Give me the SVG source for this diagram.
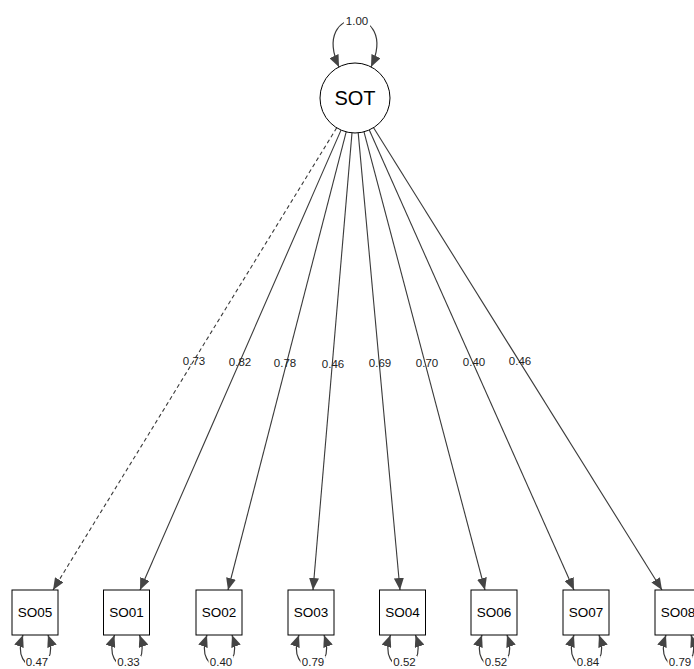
<svg xmlns="http://www.w3.org/2000/svg" width="694" height="669" viewBox="0 0 694 669">
<style>
.box{fill:#fff;stroke:#000;stroke-width:1}
.lat{fill:#fff;stroke:#000;stroke-width:1}
.edge{fill:none;stroke:#3a3a3a;stroke-width:1.1}
.dash{stroke-dasharray:4,3}
.loop{fill:none;stroke:#3a3a3a;stroke-width:1.2}
.bg{fill:#fff;stroke:none}
.lbl{font-family:"Liberation Sans",Arial,sans-serif;font-size:11.5px;fill:#222;text-anchor:middle}
.nt{font-family:"Liberation Sans",Arial,sans-serif;font-size:13.5px;fill:#000;text-anchor:middle}
.lt{font-family:"Liberation Sans",Arial,sans-serif;font-size:20px;fill:#000;text-anchor:middle}
</style>
<defs>
<marker id="ah" viewBox="0 0 12 10" refX="12" refY="5" markerWidth="12" markerHeight="10" markerUnits="userSpaceOnUse" orient="auto-start-reverse">
<path d="M0,0 L12,5 L0,10 Z" fill="#444"/>
</marker>
</defs>
<g id="connectors">
<path class="edge dash" d="M336.7,127.8 L53,590" marker-end="url(#ah)"/>
<path class="edge" d="M341,130.1 L140,590" marker-end="url(#ah)"/>
<path class="edge" d="M346.2,131.9 L228,590" marker-end="url(#ah)"/>
<path class="edge" d="M352,132.9 L313,590" marker-end="url(#ah)"/>
<path class="edge" d="M358.2,132.9 L400,590" marker-end="url(#ah)"/>
<path class="edge" d="M364,131.8 L485,590" marker-end="url(#ah)"/>
<path class="edge" d="M369.3,130 L574,590" marker-end="url(#ah)"/>
<path class="edge" d="M373.6,127.7 L662,590" marker-end="url(#ah)"/>
<text class="lbl" x="194" y="365">0.73</text>
<text class="lbl" x="240" y="366">0.82</text>
<text class="lbl" x="285" y="367">0.78</text>
<text class="lbl" x="333" y="368">0.46</text>
<text class="lbl" x="380" y="367">0.69</text>
<text class="lbl" x="427" y="367">0.70</text>
<text class="lbl" x="474" y="366">0.40</text>
<text class="lbl" x="520" y="365">0.46</text>
<path class="loop" d="M339,67 C310,4 400,4 371,67" marker-start="url(#ah)" marker-end="url(#ah)"/>
<rect class="bg" x="344" y="14" width="26" height="13"/>
<text class="lbl" x="357" y="25">1.00</text>
<g id="loops">
<path class="loop" d="M23,635 C8,677 63,677 48,635" marker-start="url(#ah)" marker-end="url(#ah)"/>
<rect class="bg" x="25" y="656" width="25" height="13"/>
<text class="lbl" x="37" y="666">0.47</text>
<path class="loop" d="M114.5,635 C99.5,677 154.5,677 139.5,635" marker-start="url(#ah)" marker-end="url(#ah)"/>
<rect class="bg" x="116" y="656" width="25" height="13"/>
<text class="lbl" x="128.5" y="666">0.33</text>
<path class="loop" d="M207,635 C192,677 247,677 232,635" marker-start="url(#ah)" marker-end="url(#ah)"/>
<rect class="bg" x="208.5" y="656" width="25" height="13"/>
<text class="lbl" x="221" y="666">0.40</text>
<path class="loop" d="M299,635 C284,677 339,677 324,635" marker-start="url(#ah)" marker-end="url(#ah)"/>
<rect class="bg" x="300.5" y="656" width="25" height="13"/>
<text class="lbl" x="313" y="666">0.79</text>
<path class="loop" d="M390.5,635 C375.5,677 430.5,677 415.5,635" marker-start="url(#ah)" marker-end="url(#ah)"/>
<rect class="bg" x="392" y="656" width="25" height="13"/>
<text class="lbl" x="404.5" y="666">0.52</text>
<path class="loop" d="M482,635 C467,677 522,677 507,635" marker-start="url(#ah)" marker-end="url(#ah)"/>
<rect class="bg" x="483.5" y="656" width="25" height="13"/>
<text class="lbl" x="496" y="666">0.52</text>
<path class="loop" d="M574,635 C559,677 614,677 599,635" marker-start="url(#ah)" marker-end="url(#ah)"/>
<rect class="bg" x="575.5" y="656" width="25" height="13"/>
<text class="lbl" x="588" y="666">0.84</text>
<path class="loop" d="M666,635 C651,677 706,677 691,635" marker-start="url(#ah)" marker-end="url(#ah)"/>
<rect class="bg" x="667.5" y="656" width="25" height="13"/>
<text class="lbl" x="680" y="666">0.79</text>
</g>
</g>
<g id="SOT"><circle class="lat" cx="355" cy="98" r="35"/><text class="lt" x="355" y="105">SOT</text></g>
<g id="SO05"><rect class="box" x="12" y="590" width="46" height="45"/><text class="nt" x="35" y="617">SO05</text></g>
<g id="SO01"><rect class="box" x="103.5" y="590" width="46" height="45"/><text class="nt" x="126.5" y="617">SO01</text></g>
<g id="SO02"><rect class="box" x="196" y="590" width="46" height="45"/><text class="nt" x="219" y="617">SO02</text></g>
<g id="SO03"><rect class="box" x="288" y="590" width="46" height="45"/><text class="nt" x="311" y="617">SO03</text></g>
<g id="SO04"><rect class="box" x="379.5" y="590" width="46" height="45"/><text class="nt" x="402.5" y="617">SO04</text></g>
<g id="SO06"><rect class="box" x="471" y="590" width="46" height="45"/><text class="nt" x="494" y="617">SO06</text></g>
<g id="SO07"><rect class="box" x="563" y="590" width="46" height="45"/><text class="nt" x="586" y="617">SO07</text></g>
<g id="SO08"><rect class="box" x="655" y="590" width="46" height="45"/><text class="nt" x="678" y="617">SO08</text></g>
</svg>
